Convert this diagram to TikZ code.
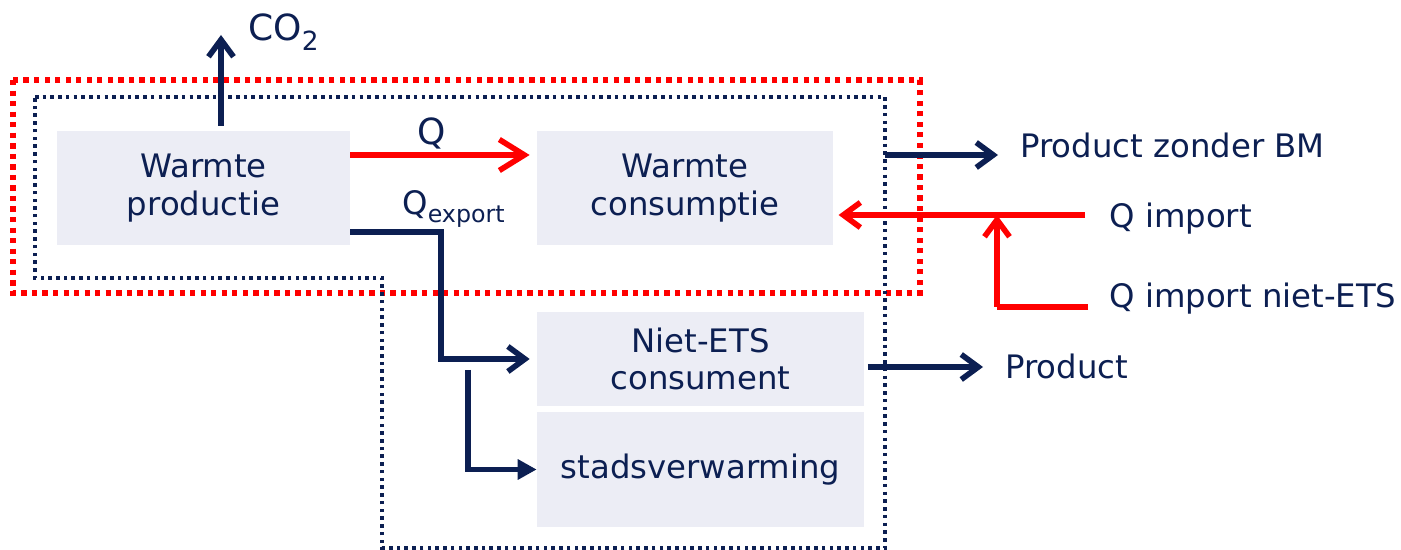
\documentclass[tikz,border=0pt]{standalone}
\usepackage{fontspec}
\setmainfont{DejaVu Sans}
\usetikzlibrary{arrows.meta}
\definecolor{navy}{HTML}{0C1F52}
\definecolor{boxfill}{HTML}{ECEDF5}
\definecolor{myred}{HTML}{FF0000}
\tikzset{
  box/.style={fill=boxfill,draw=none,text=navy,align=center,inner sep=0pt,
    font=\fontsize{18.4}{21.5}\selectfont},
  lbl/.style={text=navy,inner sep=0pt,font=\fontsize{18.4}{21.5}\selectfont},
  navyarrow/.style={draw=navy,line width=3.2pt,-{Straight Barb[length=3.4mm,width=5mm,line width=3.2pt]}},
  navyfill/.style={draw=navy,line width=3.2pt,-{Triangle[length=3.8mm,width=3.9mm]}},
  redarrow/.style={draw=myred,line width=3.2pt,-{Straight Barb[length=3.4mm,width=5mm,line width=3.2pt]}},
  bigredarrow/.style={draw=myred,line width=3.2pt,-{Straight Barb[length=5mm,width=6.2mm,line width=3.2pt]}},
  redline/.style={draw=myred,line width=3.2pt},
  reddots/.style={draw=myred,line width=3pt,dash pattern=on 3pt off 3pt},
  navydots/.style={draw=navy,line width=1.9pt,dash pattern=on 2pt off 2.4pt},
}
\begin{document}
\begin{tikzpicture}[x=0.02cm,y=-0.02cm]
\useasboundingbox (0,0) rectangle (1401,550);
% boxes
\node[box,minimum width=5.86cm,minimum height=2.28cm] (prod) at (203.5,188) {Warmte\\productie};
\node[box,minimum width=5.92cm,minimum height=2.28cm] (cons) at (685,188) {Warmte\\consumptie};
\node[box,minimum width=6.54cm,minimum height=1.88cm] (niet) at (700.5,359) {Niet-ETS\\consument};
\node[box,minimum width=6.54cm,minimum height=2.30cm] (stad) at (700.5,469.5) {stadsverwarming};
% boundaries
\draw[reddots] (13,80) rectangle (920,293);
\draw[navydots] (35,97) -- (885,97) -- (885,548) -- (382,548) -- (382,278) -- (35,278) -- cycle;
% labels
\node[lbl,anchor=west,font=\fontsize{20.5}{22}\selectfont] (co2) at (248,32) {CO{\fontsize{15}{15}\selectfont\raisebox{-6pt}{2}}};
\node[lbl,font=\fontsize{20.5}{22}\selectfont] (qlbl) at (432,133) {Q};
\node[lbl,anchor=west] (qexp) at (402,209) {Q{\fontsize{13.5}{13.5}\selectfont\raisebox{-5pt}{export}}};
\node[lbl,anchor=west] (pzb) at (1020,145) {Product zonder BM};
\node[lbl,anchor=west] (qimp) at (1109,219) {Q import};
\node[lbl,anchor=west] (qimpn) at (1109,299) {Q import niet-ETS};
\node[lbl,anchor=west] (prodout) at (1005,366) {Product};
\coordinate (co2end) at (221,35);
\coordinate (pzbend) at (998,155);
\coordinate (prodend) at (983,367);
\coordinate (qimpstart) at (1085,215);
\coordinate (qnstart) at (1088,307);
\coordinate (split) at (997,307);
\coordinate (ebend) at (441,232);
\coordinate (sbranch) at (468,370);
% connectors
\draw[navyarrow] (co2end |- prod.north) ++(0,-5) -- (co2end);
\draw[bigredarrow] (prod.east |- 0,155) -- ([xshift=-4pt]cons.west |- 0,155);
\draw[navyarrow] (prod.east |- ebend) -- (ebend) -- (ebend |- niet.west) -- ([xshift=-4pt]niet.west);
\draw[navyfill] (sbranch) -- (sbranch |- stad.west) -- (stad.west);
\draw[navyarrow] (885,155) -- (pzbend);
\draw[navyarrow] ([xshift=2pt]niet.east |- prodend) -- (prodend);
\draw[redarrow] (qimpstart) -- ([xshift=3pt]cons.east |- qimpstart);
\draw[redline] (qnstart) -- (split);
\draw[redarrow] (split) -- (split |- qimpstart);
\end{tikzpicture}
\end{document}
